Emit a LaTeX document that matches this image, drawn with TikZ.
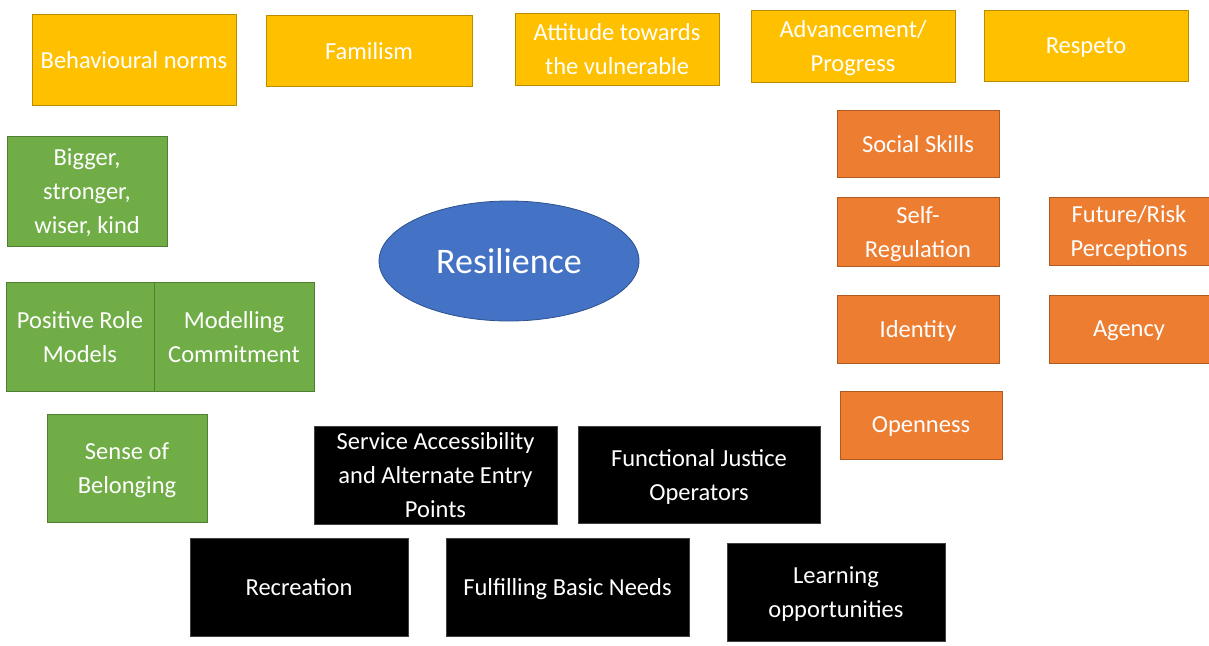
\documentclass[tikz,border=0pt]{standalone}
\usepackage{fontspec}
\setmainfont{Carlito}
\usetikzlibrary{shapes.geometric}
\definecolor{ylwfill}{HTML}{FFC000}
\definecolor{ylwline}{HTML}{BC8C00}
\definecolor{grnfill}{HTML}{70AD47}
\definecolor{grnline}{HTML}{507E32}
\definecolor{orgfill}{HTML}{ED7D31}
\definecolor{orgline}{HTML}{AE5A21}
\definecolor{blufill}{HTML}{4472C4}
\definecolor{bluline}{HTML}{2F528F}
\definecolor{blkline}{HTML}{404040}
\tikzset{
  card/.style={draw, line width=0.8pt, align=center, text=white, inner sep=0pt,
    text depth=0pt, font=\fontsize{24.5}{34}\selectfont},
  norm/.style={card, fill=ylwfill, draw=ylwline},
  kin/.style={card, fill=grnfill, draw=grnline},
  trait/.style={card, fill=orgfill, draw=orgline},
  serv/.style={card, fill=black, draw=blkline},
}
\begin{document}
\begin{tikzpicture}[x=1pt, y=-1pt]
\useasboundingbox (0,0) rectangle (1209,645);

% cultural values (top row)
\node[norm, minimum width=204pt, minimum height=91pt] (behav) at (134,59.5) {Behavioural norms};
\node[norm, minimum width=206pt, minimum height=71pt] (famil) at (369,50.5) {Familism};
\node[norm, minimum width=204pt, minimum height=72pt] (attit) at (617,49) {Attitude towards\\the vulnerable};
\node[norm, minimum width=204pt, minimum height=72pt] (advan) at (853,46) {Advancement/\\Progress};
\node[norm, minimum width=204pt, minimum height=71pt] (respe) at (1086,45.5) {Respeto};

% relationships (left column)
\node[kin, minimum width=160pt, minimum height=110pt] (bigger) at (87,191) {Bigger,\\stronger,\\wiser, kind};
\node[kin, minimum width=148pt, minimum height=109pt] (rolemod) at (80,336.5) {Positive Role\\Models};
\node[kin, minimum width=160pt, minimum height=109pt] (modcom) at (234,336.5) {Modelling\\Commitment};
\node[kin, minimum width=160pt, minimum height=108pt] (belong) at (127,468) {Sense of\\Belonging};

% individual traits (right side)
\node[trait, minimum width=162pt, minimum height=67pt] (social) at (918,143.5) {Social Skills};
\node[trait, minimum width=162pt, minimum height=69pt] (selfreg) at (918,231.5) {Self-\\Regulation};
\node[trait, minimum width=160pt, minimum height=68pt] (future) at (1129,231) {Future/Risk\\Perceptions};
\node[trait, minimum width=162pt, minimum height=68pt] (ident) at (918,329) {Identity};
\node[trait, minimum width=160pt, minimum height=68pt] (agency) at (1129,329) {Agency};
\node[trait, minimum width=162pt, minimum height=68pt] (open) at (921,425) {Openness};

% community resources (bottom)
\node[serv, minimum width=243pt, minimum height=98pt] (access) at (435.5,475) {Service Accessibility\\and Alternate Entry\\Points};
\node[serv, minimum width=242pt, minimum height=97pt] (justice) at (699,474.5) {Functional Justice\\Operators};
\node[serv, minimum width=218pt, minimum height=98pt] (recre) at (299,587) {Recreation};
\node[serv, minimum width=243pt, minimum height=98pt] (needs) at (567.5,587) {Fulfilling Basic Needs};
\node[serv, minimum width=218pt, minimum height=98pt] (learn) at (836,592) {Learning\\opportunities};

% central concept
\node[ellipse, draw=bluline, fill=blufill, line width=0.8pt, text=white,
  minimum width=260pt, minimum height=120pt, inner sep=0pt,
  font=\fontsize{36}{44}\selectfont] (resil) at (509,261) {Resilience};
\end{tikzpicture}
\end{document}
